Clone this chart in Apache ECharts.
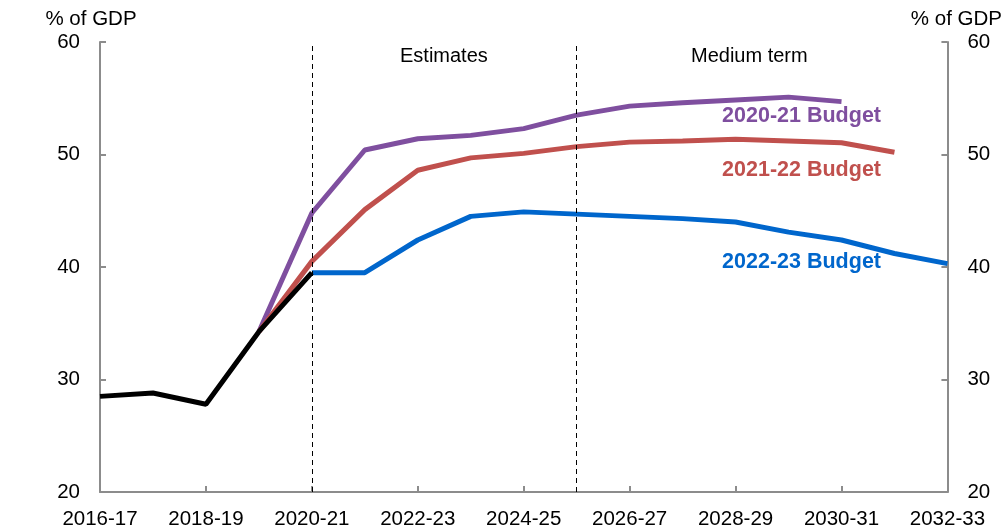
<!DOCTYPE html>
<html><head><meta charset="utf-8">
<script src="https://cdn.jsdelivr.net/npm/echarts@6/dist/echarts.min.js"></script>
<style>html,body{margin:0;padding:0;background:#fff}#c{width:1005px;height:532px}</style>
</head><body><div id="c"></div>
<script>
const categories = ['2016-17','2017-18','2018-19','2019-20','2020-21','2021-22','2022-23','2023-24','2024-25','2025-26','2026-27','2027-28','2028-29','2029-30','2030-31','2031-32','2032-33'];
const actual   = [28.5, 28.8, 27.8, 34.25, 39.5, null, null, null, null, null, null, null, null, null, null, null, null];
const budget2021 = [null, null, null, 34.25, 44.8, 50.4, 51.4, 51.7, 52.3, 53.5, 54.3, 54.6, 54.85, 55.1, 54.7, null, null];
const budget2122 = [null, null, null, 34.25, 40.5, 45.1, 48.6, 49.7, 50.1, 50.7, 51.1, 51.2, 51.35, 51.2, 51.05, 50.2, null];
const budget2223 = [null, null, null, null, 39.5, 39.5, 42.4, 44.5, 44.9, 44.7, 44.5, 44.3, 44.0, 43.1, 42.4, 41.2, 40.3];
const yTicks = [20, 30, 40, 50, 60];
const periodMarks = ['2020-21', '2025-26'];
const periodLabels = ['Estimates', 'Medium term'];
const seriesLabels = ['2020-21 Budget', '2021-22 Budget', '2022-23 Budget'];

const FONT = 'Liberation Sans, Arial, sans-serif';
const axisGray = '#8c8c8c';
const chart = echarts.init(document.getElementById('c'));

function yAxis(pos) {
  return {
    type: 'value', position: pos, min: yTicks[0], max: yTicks[yTicks.length-1], interval: 10,
    name: '% of GDP', nameLocation: 'end', nameGap: 12,
    nameTextStyle: { color: '#000', fontSize: 20.5, fontFamily: FONT, align: 'center',
      padding: pos === 'left' ? [0, 18, 0, 0] : [0, 0, 0, 18] },
    axisLine: { show: true, lineStyle: { color: axisGray, width: 2 } },
    axisTick: { show: true, inside: true, length: 6, lineStyle: { color: axisGray, width: 2 } },
    axisLabel: { color: '#000', fontSize: 20.5, fontFamily: FONT, margin: 20 },
    splitLine: { show: false }
  };
}

function line(name, data, color, z) {
  return { name, type: 'line', data, symbol: 'none', connectNulls: false, z,
    lineStyle: { color, width: 5 }, itemStyle: { color } };
}

const s1 = line('2020-21 Budget', budget2021, '#7f4f9f', 2);
const s2 = line('2021-22 Budget', budget2122, '#c0504d', 3);
const s3 = line('2022-23 Budget', budget2223, '#0066cc', 4);
const s4 = line('Actual', actual, '#000000', 5);
s4.markLine = {
  silent: true, symbol: 'none', label: { show: false },
  lineStyle: { color: '#000', type: [5, 4], width: 1 },
  data: periodMarks.map(m => ({ xAxis: m }))
};

chart.setOption({
  animation: false,
  textStyle: { fontFamily: FONT },
  grid: { left: 100, right: 56, top: 42, bottom: 40 },
  xAxis: {
    type: 'category', data: categories, boundaryGap: false,
    axisLine: { lineStyle: { color: axisGray, width: 2 } },
    axisTick: { inside: true, length: 6, interval: 1, lineStyle: { color: axisGray, width: 2 } },
    axisLabel: { interval: 1, color: '#000', fontSize: 20.5, fontFamily: FONT, margin: 17 }
  },
  yAxis: [yAxis('left'), yAxis('right')],
  series: [s1, s2, s3, s4],
  graphic: [
    { type: 'text', left: 400, top: 46, style: { text: periodLabels[0], fontSize: 20, fontFamily: FONT, fill: '#000' } },
    { type: 'text', left: 691, top: 46, style: { text: periodLabels[1], fontSize: 20, fontFamily: FONT, fill: '#000' } },
    { type: 'text', right: 124, top: 105, style: { text: seriesLabels[0], fontSize: 21.5, fontWeight: 'bold', fontFamily: FONT, fill: '#7f4f9f' } },
    { type: 'text', right: 124, top: 159, style: { text: seriesLabels[1], fontSize: 21.5, fontWeight: 'bold', fontFamily: FONT, fill: '#c0504d' } },
    { type: 'text', right: 124, top: 251, style: { text: seriesLabels[2], fontSize: 21.5, fontWeight: 'bold', fontFamily: FONT, fill: '#0066cc' } }
  ]
});
</script></body></html>
